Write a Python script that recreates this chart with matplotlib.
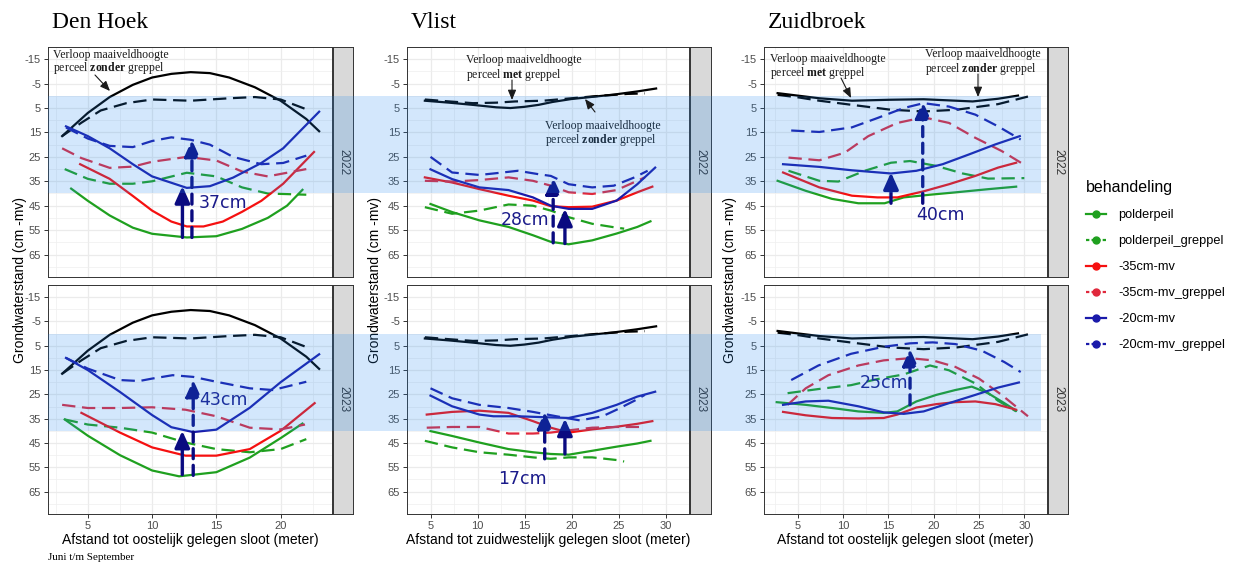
import matplotlib
matplotlib.use('Agg')
import matplotlib.pyplot as plt
from matplotlib.lines import Line2D
from matplotlib.patches import Rectangle, FancyArrowPatch

plt.rcParams['font.family'] = ['Liberation Sans', 'DejaVu Sans']
plt.rcParams['axes.unicode_minus'] = False
plt.rcParams['mathtext.fontset'] = 'custom'
plt.rcParams['mathtext.rm'] = 'Liberation Serif'
plt.rcParams['mathtext.bf'] = 'Liberation Serif:bold'

W, H = 1243, 567

sites = ['Den Hoek', 'Vlist', 'Zuidbroek']
years = ['2022', '2023']
treatments = ['polderpeil', 'polderpeil_greppel', '-35cm-mv', '-35cm-mv_greppel', '-20cm-mv', '-20cm-mv_greppel']
x_titles = ['Afstand tot oostelijk gelegen sloot (meter)',
            'Afstand tot zuidwestelijk gelegen sloot (meter)',
            'Afstand tot oostelijk gelegen sloot (meter)']
y_title = 'Grondwaterstand (cm -mv)'
y_ticks = [-15, -5, 5, 15, 25, 35, 45, 55, 65]
x_ticks = [[5, 10, 15, 20], [5, 10, 15, 20, 25, 30], [5, 10, 15, 20, 25, 30]]

# maaiveld (ground level) per site, same in both years
dh_mv_zonder_x = [3.0, 5, 6.7, 8.5, 10, 11.5, 13, 14.5, 16, 18, 20, 22, 23]
dh_mv_zonder_y = [16.5, 7, 0.5, -4.5, -7.5, -9, -9.7, -9.3, -7.5, -3.5, 2, 9.5, 14.5]
dh_mv_met_x = [3.0, 4.5, 6, 8, 10, 13, 16, 18, 20, 22]
dh_mv_met_y = [16.5, 11, 6, 3, 1.5, 2, 1, 0.5, 1.5, 5.5]
vl_mv_zonder_x = [4.4, 7, 9.5, 12, 13.5, 15, 16.5, 18, 20, 22, 24.5, 27, 29]
vl_mv_zonder_y = [2, 2.8, 3.7, 4.7, 5, 4.5, 3.7, 2.5, 1.3, 0.5, -0.5, -1.8, -3]
vl_mv_met_x = [4.4, 7, 9.5, 12, 14, 17, 20, 23, 26, 27.8]
vl_mv_met_y = [1.5, 2.3, 3, 2.8, 2.3, 2, 1, 0, -0.8, -1]
zb_mv_zonder_x = [2.8, 7.4, 11, 15.3, 18.9, 24.3, 27.1, 29.3]
zb_mv_zonder_y = [-1.1, 1, 2, 1.6, 1.4, 2.3, 1.2, -0.1]
zb_mv_met_x = [2.8, 5.2, 7.4, 11, 15.3, 18.9, 22.5, 27.1, 30.4]
zb_mv_met_y = [-0.4, 0.7, 2, 3.7, 5.7, 6.4, 5.7, 3.4, 0.3]

# Den Hoek 2022
dh22_pp_x = [3.7, 5, 6.7, 8.5, 10, 12.7, 15, 17, 19, 20.5, 21.7]
dh22_pp_y = [38, 43, 49, 54, 56.5, 58, 57.5, 54.5, 50, 45, 38.5]
dh22_ppg_x = [3.2, 5, 6.7, 8.5, 10, 12.7, 15, 17, 19, 22]
dh22_ppg_y = [30, 34, 36, 36, 35, 31.5, 33, 37.5, 40, 40.5]
dh22_m35_x = [4.4, 6.7, 8.5, 10, 11.5, 12.7, 14, 15.5, 17, 18.5, 20.2, 22.6]
dh22_m35_y = [28, 34, 41, 47, 51.5, 53.5, 53.5, 51.5, 47.5, 43, 36, 23]
dh22_m35g_x = [3, 4.5, 6.7, 8.5, 10, 12.7, 15, 17, 19, 22]
dh22_m35g_y = [21.5, 25.5, 29.5, 29, 27, 25, 26.5, 31, 33, 30]
dh22_m20_x = [3.3, 5, 6.7, 8.5, 10, 12.7, 14.5, 16.3, 18.5, 20.2, 23]
dh22_m20_y = [12.5, 16.5, 21.5, 28, 33, 37.7, 37, 33.5, 27.5, 21.5, 6.5]
dh22_m20g_x = [3.3, 5, 6.7, 8.5, 10, 11.5, 13, 14.5, 16.3, 18.5, 20.2, 22]
dh22_m20g_y = [13, 17.5, 20.5, 21, 18.5, 17, 18, 20, 25, 28, 27.5, 24.5]

# Den Hoek 2023
dh23_pp_x = [3.2, 5, 7.5, 10, 12.1, 15, 17.6, 20, 21.7]
dh23_pp_y = [35.3, 42, 50, 56.3, 58.7, 57, 51, 43, 37]
dh23_ppg_x = [3.2, 5, 7.5, 10, 12.6, 15, 17.6, 20, 22]
dh23_ppg_y = [35.3, 37.4, 38.7, 40.7, 44.8, 47.5, 48.8, 47.5, 43.4]
dh23_m35_x = [4.5, 7.5, 10, 12.6, 15, 17.6, 20, 22.65]
dh23_m35_y = [32.6, 40.7, 46.8, 50.2, 50.2, 47.5, 40, 28.6]
dh23_m35g_x = [3, 5, 7.5, 10, 12.6, 15, 17.6, 20, 21.9]
dh23_m35g_y = [29.3, 30.6, 30.6, 30.3, 31.3, 34, 38.7, 39.4, 37.4]
dh23_m20_x = [3.3, 5, 7.5, 10, 11.5, 13.2, 15, 17.6, 20, 23]
dh23_m20_y = [10, 15, 24, 33.5, 38.5, 40.5, 39.5, 30.5, 20, 8.5]
dh23_m20g_x = [3.3, 5, 7.5, 9, 10, 11.6, 13.2, 15, 17.6, 19.4, 22]
dh23_m20g_y = [10, 14.4, 19.1, 19.5, 18.5, 17.1, 17.8, 19.8, 22.5, 23.2, 19.8]

# Vlist 2022
vl22_pp_x = [5, 7.3, 10.2, 13.3, 15.9, 17.8, 19.7, 22.2, 24.8, 27, 28.4]
vl22_pp_y = [44.3, 47.6, 51, 53.7, 57.1, 59.8, 60.8, 59.2, 56.4, 53.7, 51.4]
vl22_ppg_x = [4.4, 7.3, 10.2, 13.3, 15.9, 17.8, 19.7, 22.2, 24.8, 25.6]
vl22_ppg_y = [45.6, 48.3, 47, 44.5, 45, 47, 49.7, 52.4, 54, 54.4]
vl22_m35_x = [4.4, 7.3, 10.2, 13.3, 15.9, 17.8, 19.7, 22.2, 24.8, 27, 28.6]
vl22_m35_y = [33.4, 35.5, 38.2, 40.9, 42.9, 45.2, 45.6, 45.4, 42.9, 39.5, 37.2]
vl22_m35g_x = [4.4, 7.3, 10.2, 13.3, 15.9, 17.8, 19.7, 22.2, 24.8, 27, 27.8]
vl22_m35g_y = [34.8, 35.1, 34.5, 33.4, 34.8, 36.8, 39.5, 40.2, 38.6, 34.8, 33.4]
vl22_m20_x = [5, 7.3, 10.2, 13.3, 15.9, 17.8, 19.7, 22.2, 24.8, 27, 28.9]
vl22_m20_y = [30.1, 34.1, 37.5, 38.6, 41.6, 45, 46.3, 46.3, 42.9, 36.2, 29.4]
vl22_m20g_x = [5, 7.3, 10.2, 11.7, 14.3, 16.5, 17.8, 19.7, 22.2, 24.5, 26.7, 28.1]
vl22_m20g_y = [25, 31.4, 32.4, 31.8, 30.7, 32.1, 32.8, 36.2, 37.5, 36.8, 33.4, 30.7]

# Vlist 2023
vl23_pp_x = [5, 7.3, 10.2, 13.3, 15.9, 17.8, 19.7, 22.2, 24.8, 27, 28.4]
vl23_pp_y = [40.1, 42.1, 44.8, 47.5, 48.8, 49.5, 49.8, 48.2, 46.5, 45.2, 44.1]
vl23_ppg_x = [4.4, 7.3, 10.2, 13.3, 15.9, 17.8, 19.7, 22.2, 24.8, 25.6]
vl23_ppg_y = [44.1, 46.8, 48.8, 49.8, 50.9, 51.5, 50.9, 50.9, 52, 52.6]
vl23_m35_x = [4.6, 7.3, 10.2, 13.3, 15.9, 17.8, 19.7, 22.2, 24.8, 27, 28.6]
vl23_m35_y = [33.3, 32.2, 31.7, 32.6, 36, 38.7, 40.7, 39.4, 38.3, 37.1, 36]
vl23_m35g_x = [4.6, 7.3, 10.2, 13.3, 15.9, 17.8, 19.7, 22.2, 24.8, 27.3]
vl23_m35g_y = [38.7, 38.4, 38.4, 41.1, 41.1, 40.7, 39.8, 38.7, 38.4, 38.4]
vl23_m20_x = [5, 7.3, 10.2, 11.7, 14.3, 17.2, 19.7, 22.2, 24.8, 27, 28.9]
vl23_m20_y = [25.5, 29.9, 33.3, 34, 34, 34.4, 34.7, 32.6, 29.3, 25.9, 23.9]
vl23_m20g_x = [5, 7.3, 10.2, 13.3, 15.9, 18.4, 20.9, 23.3, 24.8, 26.7, 27.8]
vl23_m20g_y = [22.5, 26.6, 29.3, 30.6, 32.2, 34, 35.7, 34, 31.3, 27.6, 25.2]

# Zuidbroek 2022
zb22_pp_x = [2.8, 5.9, 8.8, 11.7, 14.6, 16.7, 19.6, 22.5, 26.1, 29.1]
zb22_pp_y = [34.8, 38.9, 42.2, 44, 44, 41.6, 40.5, 39.5, 38.2, 37.2]
zb22_ppg_x = [4, 7.4, 9.5, 12.4, 15.3, 17.4, 20.3, 23.2, 26, 30]
zb22_ppg_y = [30.7, 34.8, 35.1, 30.7, 27.4, 26.7, 28.7, 31.8, 33.9, 33.7]
zb22_m35_x = [3.4, 7.4, 11, 13.8, 16, 18.9, 21.7, 24.6, 27.1, 29.1]
zb22_m35_y = [31.4, 37.5, 40.9, 41.6, 41.6, 39.1, 36.2, 32.8, 29.4, 27.4]
zb22_m35g_x = [4, 7.4, 10.2, 12.8, 16, 18.9, 21.7, 24.6, 27.5, 30.2]
zb22_m35g_y = [25.3, 26.4, 23.3, 16.5, 11.1, 8.8, 11.1, 17.2, 22.6, 28.7]
zb22_m20_x = [3.4, 7.4, 11, 15.3, 18.1, 21, 23.9, 26.8, 29.5]
zb22_m20_y = [28, 29.1, 30.5, 31.8, 30.7, 28, 24, 19.9, 16.5]
zb22_m20g_x = [4.3, 7.4, 11, 13.8, 16.7, 18.9, 21.7, 24.6, 27.1, 29.6]
zb22_m20g_y = [14.2, 14.8, 12.9, 9.1, 5, 3, 4.4, 7.7, 12.5, 17.9]

# Zuidbroek 2023
zb23_pp_x = [2.7, 5.9, 8.8, 11.7, 14.5, 16, 18.1, 20.3, 22.4, 24.2, 26, 27.8, 29.1]
zb23_pp_y = [28.2, 29.3, 30.6, 32, 32.6, 32, 27.9, 25.2, 23.2, 21.8, 24.5, 28.6, 31.7]
zb23_ppg_x = [3.9, 7.3, 10.9, 13.8, 16.7, 19.6, 21.7, 24.6, 27.1, 29.1]
zb23_ppg_y = [24.5, 22.8, 21.2, 18.7, 16.8, 13.1, 15.1, 20.5, 27.6, 32]
zb23_m35_x = [3.4, 5.9, 8.8, 11.7, 14.5, 16, 18.1, 20.3, 22.4, 24.6, 26.8, 29.1]
zb23_m35_y = [32.2, 33.6, 34.7, 34.9, 34.7, 33.3, 30.4, 29, 28.2, 27.9, 29, 31.3]
zb23_m35g_x = [3.9, 5.9, 8.4, 11.7, 14.5, 17.4, 19.9, 22.4, 25, 27.5, 30.4]
zb23_m35g_y = [29.3, 22.5, 17.1, 13.1, 11, 10.1, 11, 13.7, 18.5, 25.2, 34]
zb23_m20_x = [3.4, 5.9, 8.4, 11.7, 14.5, 16.7, 18.9, 21.7, 24.6, 27.1, 29.4]
zb23_m20_y = [29.3, 27.9, 27.6, 29.9, 32.4, 33, 32, 28.6, 25.2, 22.2, 20.1]
zb23_m20g_x = [4.3, 7.3, 10.9, 14.5, 17.4, 19.9, 22.4, 25.3, 27.8, 29.6]
zb23_m20g_y = [19.1, 13.1, 8.3, 5.4, 4, 3.6, 4.3, 7, 11.7, 15.8]

ground = [(dh_mv_zonder_x, dh_mv_zonder_y, dh_mv_met_x, dh_mv_met_y),
          (vl_mv_zonder_x, vl_mv_zonder_y, vl_mv_met_x, vl_mv_met_y),
          (zb_mv_zonder_x, zb_mv_zonder_y, zb_mv_met_x, zb_mv_met_y)]

curves = [
    [[(dh22_pp_x, dh22_pp_y), (dh22_ppg_x, dh22_ppg_y), (dh22_m35_x, dh22_m35_y),
      (dh22_m35g_x, dh22_m35g_y), (dh22_m20_x, dh22_m20_y), (dh22_m20g_x, dh22_m20g_y)],
     [(dh23_pp_x, dh23_pp_y), (dh23_ppg_x, dh23_ppg_y), (dh23_m35_x, dh23_m35_y),
      (dh23_m35g_x, dh23_m35g_y), (dh23_m20_x, dh23_m20_y), (dh23_m20g_x, dh23_m20g_y)]],
    [[(vl22_pp_x, vl22_pp_y), (vl22_ppg_x, vl22_ppg_y), (vl22_m35_x, vl22_m35_y),
      (vl22_m35g_x, vl22_m35g_y), (vl22_m20_x, vl22_m20_y), (vl22_m20g_x, vl22_m20g_y)],
     [(vl23_pp_x, vl23_pp_y), (vl23_ppg_x, vl23_ppg_y), (vl23_m35_x, vl23_m35_y),
      (vl23_m35g_x, vl23_m35g_y), (vl23_m20_x, vl23_m20_y), (vl23_m20g_x, vl23_m20g_y)]],
    [[(zb22_pp_x, zb22_pp_y), (zb22_ppg_x, zb22_ppg_y), (zb22_m35_x, zb22_m35_y),
      (zb22_m35g_x, zb22_m35g_y), (zb22_m20_x, zb22_m20_y), (zb22_m20g_x, zb22_m20g_y)],
     [(zb23_pp_x, zb23_pp_y), (zb23_ppg_x, zb23_ppg_y), (zb23_m35_x, zb23_m35_y),
      (zb23_m35g_x, zb23_m35g_y), (zb23_m20_x, zb23_m20_y), (zb23_m20g_x, zb23_m20g_y)]],
]

# difference arrows: (x, from, to, dashed) and label (text, x, y, ha)
arrows = {
    (0, 0): [(12.36, 58, 37, False), (13.1, 58, 18, True)],
    (0, 1): [(12.35, 58, 40, False), (13.2, 58.3, 19, True)],
    (1, 0): [(18.05, 60.2, 33.4, True), (19.3, 60.5, 46.3, False)],
    (1, 1): [(17.15, 51.5, 32.2, True), (19.3, 49.5, 35, False)],
    (2, 0): [(15.3, 44, 31.4, False), (18.8, 44, 2.3, True)],
    (2, 1): [(17.4, 29.3, 6.3, True)],
}
labels = {
    (0, 0): ('37cm', 13.65, 43.8, 'left'),
    (0, 1): ('43cm', 13.7, 27.2, 'left'),
    (1, 0): ('28cm', 17.6, 50.8, 'right'),
    (1, 1): ('17cm', 14.8, 60, 'center'),
    (2, 0): ('40cm', 20.8, 49, 'center'),
    (2, 1): ('25cm', 14.5, 20.5, 'center'),
}

colors = ['#1FA01F', '#1FA01F', '#F51010', '#E0283C', '#1A1AAA', '#1A1AAA']
dashed = (0, (6, 3))
styles = ['-', dashed, '-', dashed, '-', dashed]

col_px = [(48, 332, 353), (407, 689, 711), (764, 1047, 1068)]
ylab_px = [20, 375, 730]
row_px = [(47, 277), (285, 514)]
xlims = [(1.9, 24.0), (3.2, 30.1), (1.3, 31.8)]
ylim = (74.2, -18.9)


def px_box(l, t, r, b):
    return [l / W, 1 - b / H, (r - l) / W, (b - t) / H]


def fpx(x, y):
    return (x / W, 1 - y / H)


fig = plt.figure(figsize=(W / 100, H / 100), dpi=100)
axes = [[None] * 3 for _ in range(2)]

for c in range(3):
    l, r, sr = col_px[c]
    for ri in range(2):
        t, b = row_px[ri]
        ax = fig.add_axes(px_box(l, t, r, b))
        axes[ri][c] = ax
        ax.set_xlim(xlims[c])
        ax.set_ylim(ylim)
        ax.set_xticks(x_ticks[c])
        ax.set_xticks([v + 2.5 for v in [0] + x_ticks[c]], minor=True)
        ax.set_yticks(y_ticks)
        ax.set_yticklabels([str(v) for v in y_ticks])
        ax.set_yticks([v + 5 for v in [-25] + y_ticks], minor=True)
        ax.grid(which='major', color='#EBEBEB', lw=0.9)
        ax.grid(which='minor', color='#EFEFEF', lw=0.5)
        ax.set_axisbelow(True)
        ax.tick_params(which='minor', length=0)
        ax.tick_params(which='major', length=3, width=0.7, color='#333333',
                       labelsize=8, labelcolor='#4D4D4D', pad=2)
        if ri == 0:
            ax.tick_params(axis='x', bottom=False, labelbottom=False)
        for sp in ax.spines.values():
            sp.set_color('#333333')
            sp.set_linewidth(0.7)

        gzx, gzy, gmx, gmy = ground[c]
        ax.plot(gzx, gzy, color='black', lw=1.6)
        ax.plot(gmx, gmy, color='black', lw=1.6, ls=dashed)
        for k, (xs, ys) in enumerate(curves[c][ri]):
            ax.plot(xs, ys, color=colors[k], lw=1.6, ls=styles[k])

        for (ax_x, y0, y1, dsh) in arrows[(c, ri)]:
            ax.annotate('', xy=(ax_x, y1), xytext=(ax_x, y0),
                        arrowprops=dict(arrowstyle='-|>,head_length=1.0,head_width=0.45',
                                        mutation_scale=10, color='#0A0A80', lw=2.4,
                                        linestyle=(0, (3, 2)) if dsh else '-',
                                        shrinkA=0, shrinkB=0))
        txt, tx, ty, ha = labels[(c, ri)]
        ax.text(tx, ty, txt, color='#1A1A8A', fontsize=12.5, family='DejaVu Sans',
                ha=ha, va='center')

        # facet strip
        sax = fig.add_axes(px_box(r + 1, t, sr, b))
        sax.set_facecolor('#D9D9D9')
        sax.set_xticks([])
        sax.set_yticks([])
        for sp in sax.spines.values():
            sp.set_color('#333333')
            sp.set_linewidth(0.7)
        sax.text(0.5, 0.5, years[ri], rotation=-90, ha='center', va='center',
                 fontsize=8.5, color='#333333', transform=sax.transAxes)

    # titles and axis labels
    fig.text((l + 4) / W, 1 - 22 / H, sites[c], family='Liberation Serif', fontsize=17,
             ha='left', va='center', color='black')
    fig.text((l + r) / 2 / W, 1 - 540 / H, x_titles[c], fontsize=10, ha='center',
             va='center', color='black')
    fig.text(ylab_px[c] / W, 1 - 280 / H, y_title, fontsize=10, rotation=90,
             ha='center', va='center', color='black')

# light blue band 0-40 cm across all panels
inv = fig.transFigure.inverted()
for ri in range(2):
    a0 = axes[ri][0]
    a2 = axes[ri][2]
    p0 = inv.transform(a0.transData.transform((xlims[0][0], 0)))
    p1 = inv.transform(a2.transData.transform((xlims[2][1], 40)))
    fig.add_artist(Rectangle((p0[0], p1[1]), p1[0] - p0[0], p0[1] - p1[1],
                             transform=fig.transFigure, facecolor='#2389F0',
                             alpha=0.2, edgecolor='none', zorder=5))

# maaiveld notes
note_kw = dict(family='Liberation Serif', fontsize=8.5, color='#1A1A1A', ha='left', va='center')
notes = [
    (53, 55, 68, 'zonder', (95, 75), (110, 91)),
    (466, 60, 75, 'met', (512, 80), (512, 100)),
    (545, 126, 140, 'zonder', (595, 112), (585, 99)),
    (770, 59, 73, 'met', (841, 78), (851, 98)),
    (925, 54, 69, 'zonder', (978, 74), (978, 97)),
]
for nx, ny1, ny2, word, a_from, a_to in notes:
    fig.text(nx / W, 1 - ny1 / H, 'Verloop maaiveldhoogte', **note_kw)
    fig.text(nx / W, 1 - ny2 / H, r'perceel $\bf{' + word + '}$ greppel', **note_kw)
    fig.add_artist(FancyArrowPatch(fpx(*a_from), fpx(*a_to), transform=fig.transFigure,
                                   arrowstyle='-|>,head_length=0.6,head_width=0.25',
                                   mutation_scale=10, color='#1A1A1A', lw=0.8,
                                   shrinkA=0, shrinkB=0, zorder=6))

fig.text(48 / W, 1 - 558 / H, 'Juni t/m September', family='Liberation Serif',
         fontsize=8, ha='left', va='center')

# legend
handles = []
for k in range(6):
    handles.append(Line2D([], [], color=colors[k], lw=1.6,
                          ls='-' if k % 2 == 0 else (0, (1.5, 1)),
                          marker='o', markersize=5))
fig.legend(handles, treatments, loc='upper left', bbox_to_anchor=(1086 / W, 1 - 180 / H),
           frameon=False, fontsize=9.2, title='behandeling', title_fontsize=11.5,
           alignment='left', handlelength=1.6, handletextpad=0.9, labelspacing=1.1,
           borderpad=0, borderaxespad=0)

fig.savefig('out.png', dpi=100)
